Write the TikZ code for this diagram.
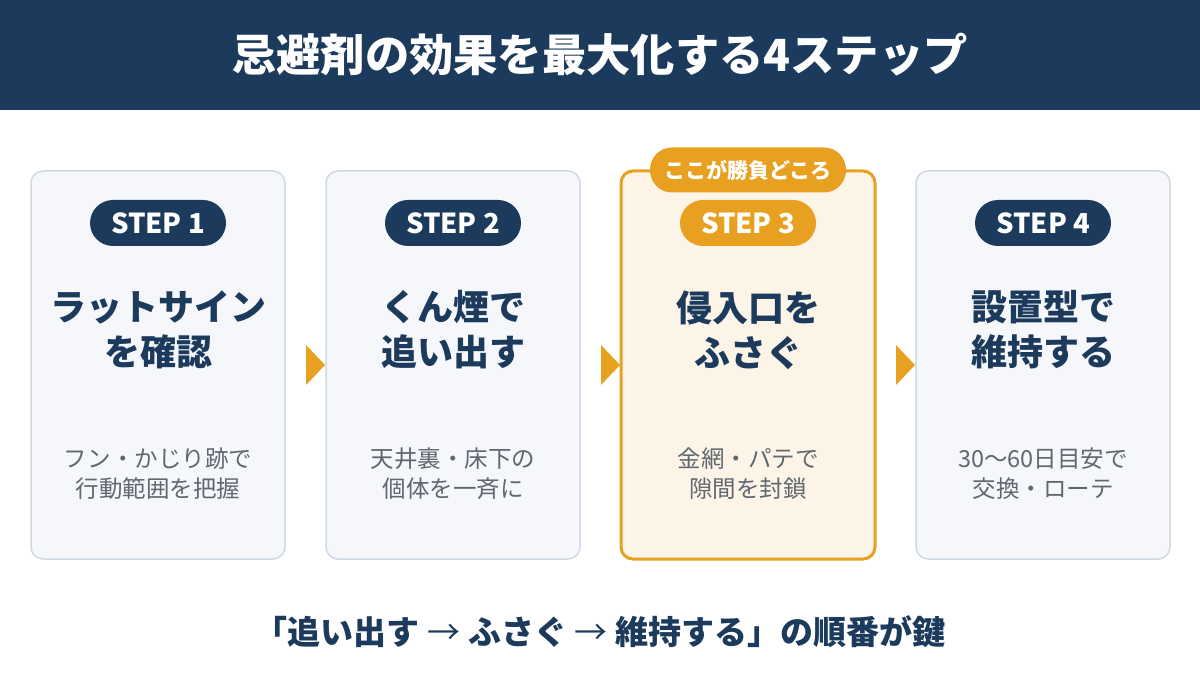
\documentclass[tikz,border=0pt]{standalone}
\usepackage{fontspec}
\setmainfont{Noto Sans CJK JP}
\usetikzlibrary{positioning}
\definecolor{navy}{HTML}{1B3A5C}
\definecolor{gold}{HTML}{E8A020}
\definecolor{cardfill}{HTML}{F5F7FB}
\definecolor{cardline}{HTML}{D0D9E3}
\definecolor{hlfill}{HTML}{FCF4E6}
\definecolor{desc}{HTML}{606770}
\tikzset{
  card/.style={draw=cardline, line width=1.5pt, fill=cardfill, rounded corners=12pt, minimum width=254pt, minimum height=388pt, inner sep=0pt},
  hlcard/.style={card, draw=gold, line width=3pt, fill=hlfill},
  badge/.style={rounded corners=23pt, fill=navy, text=white, font=\fontsize{27.5}{30}\selectfont\bfseries, minimum width=136pt, minimum height=46pt, inner sep=0pt},
  hlbadge/.style={badge, fill=gold},
  heading/.style={text=navy, font=\fontsize{36}{45}\selectfont\bfseries, align=center},
  note/.style={text=desc, font=\fontsize{23.5}{30}\selectfont, align=center},
  tri/.style={fill=gold, draw=none},
}
\begin{document}
\begin{tikzpicture}[x=1pt,y=-1pt]
\useasboundingbox (0,0) rectangle (1200,700);
\fill[white] (0,0) rectangle (1200,700);
\fill[navy] (0,0) rectangle (1200,110);
\node[text=white, font=\fontsize{44.3}{48}\selectfont\bfseries] (title) at (600,55) {忌避剤の効果を最大化する4ステップ};

\node[card] (c1) at (158,365) {};
\node[card] (c2) at (453,365) {};
\node[hlcard] (c3) at (748,365) {};
\node[card] (c4) at (1043,365) {};

\node[rounded corners=22pt, fill=gold, text=white, font=\fontsize{21}{24}\selectfont\bfseries, minimum width=196pt, minimum height=45pt, inner sep=0pt] (key) at (748,170) {ここが勝負どころ};

\node[badge] (b1) at (158,223) {STEP 1};
\node[badge] (b2) at (453,223) {STEP 2};
\node[hlbadge] (b3) at (748,223) {STEP 3};
\node[badge] (b4) at (1043,223) {STEP 4};

\node[heading] (h1) at (158,330) {ラットサイン\\を確認};
\node[heading] (h2) at (453,330) {くん煙で\\追い出す};
\node[heading] (h3) at (748,330) {侵入口を\\ふさぐ};
\node[heading] (h4) at (1043,330) {設置型で\\維持する};

\node[note] (n1) at (158,474) {フン・かじり跡で\\行動範囲を把握};
\node[note] (n2) at (453,474) {天井裏・床下の\\個体を一斉に};
\node[note] (n3) at (748,474) {金網・パテで\\隙間を封鎖};
\node[note] (n4) at (1043,474) {30〜60日目安で\\交換・ローテ};

\fill[tri] (306,345) -- (325,365) -- (306,385) -- cycle;
\fill[tri] (601,345) -- (620,365) -- (601,385) -- cycle;
\fill[tri] (896,345) -- (915,365) -- (896,385) -- cycle;

\node[text=navy, font=\fontsize{33}{36}\selectfont\bfseries] (foot) at (600,632) {「追い出す {\mdseries →} ふさぐ {\mdseries →} 維持する」の順番が鍵};
\end{tikzpicture}
\end{document}
